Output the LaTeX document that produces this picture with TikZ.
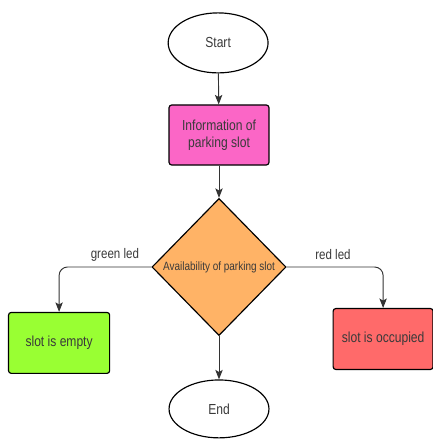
\documentclass[tikz,border=0pt]{standalone}
\usepackage{fontspec}
\setmainfont[FakeStretch=0.83]{Liberation Sans}
\usepackage{tikz}
\usetikzlibrary{arrows.meta,positioning,shapes.geometric}
\usepackage{xcolor}
\definecolor{infopink}{HTML}{FB66C6}
\definecolor{availorange}{HTML}{FFB366}
\definecolor{emptygreen}{HTML}{99FF33}
\definecolor{occupiedred}{HTML}{FF6A6A}
\definecolor{inktext}{HTML}{3A3A3A}
\definecolor{inkline}{HTML}{333333}
\pgfdeclarelayer{edgelayer}
\pgfdeclarelayer{nodelayer}
\pgfsetlayers{edgelayer,nodelayer,main}
\tikzstyle{terminal}=[ellipse,draw=black,fill=white,line width=1.1pt,minimum width=3.33cm,minimum height=2cm,inner sep=0pt,text=inktext,font=\fontsize{13.8}{15}\selectfont]
\tikzstyle{process}=[rectangle,rounded corners=2.5pt,draw=black,line width=1.1pt,minimum width=3.33cm,minimum height=2cm,align=center,text=inktext,font=\fontsize{13.8}{16.5}\selectfont]
\tikzstyle{decision}=[diamond,draw=black,fill=availorange,line width=1.1pt,minimum width=4.47cm,minimum height=4.57cm,inner sep=0pt,text=inktext,font=\fontsize{11.4}{13}\selectfont]
\tikzstyle{flowarrow}=[-{Stealth[length=9pt,width=7pt,inset=2pt]},draw=inkline,line width=0.9pt]
\tikzstyle{branch}=[flowarrow,rounded corners=8pt]
\tikzstyle{edgetext}=[inner sep=0pt,text=inktext,font=\fontsize{13.2}{15}\selectfont]

\begin{document}
\begin{tikzpicture}
	\useasboundingbox (-7.3,-5.733) rectangle (7.133,8.9);
	\begin{pgfonlayer}{nodelayer}
		\node [style=terminal] (start) at (-0.03,7.47) {Start};
		\node [style=process, fill=infopink] (info) at (0,4.4) {Information of\\parking slot};
		\node [style=decision] (avail) at (0,0) {Availability of parking slot};
		\node [style=process, fill=emptygreen, minimum width=3.37cm, minimum height=2.03cm] (empty) at (-5.33,-2.53) {slot is empty};
		\node [style=process, fill=occupiedred, minimum height=2.03cm] (occupied) at (5.47,-2.4) {slot is occupied};
		\node [style=terminal, minimum height=1.93cm] (finish) at (0,-4.73) {End};

		\node [style=edgetext] (green) at (-3.47,0.4) {green led};
		\node [style=edgetext] (red) at (3.8,0.4) {red led};
	\end{pgfonlayer}
	\begin{pgfonlayer}{edgelayer}
		\fill [white] (-7.3,-5.733) rectangle (7.133,8.9);
		\draw [style=flowarrow] (start) to (info);
		\draw [style=flowarrow] (info) to (avail);
		\draw [style=branch] (avail.west) -| (empty.north);
		\draw [style=branch] (avail.east) -| (occupied.north);
		\draw [style=flowarrow] (avail) to (finish);
	\end{pgfonlayer}
\end{tikzpicture}
\end{document}
